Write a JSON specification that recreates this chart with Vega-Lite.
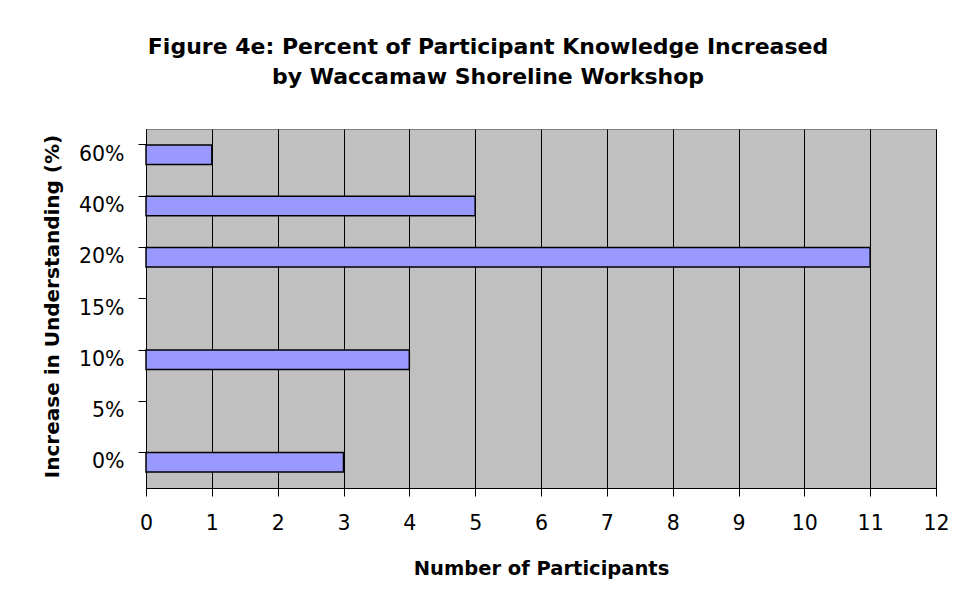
{
  "$schema": "https://vega.github.io/schema/vega-lite/v6.json",
  "width": 790,
  "height": 359,
  "autosize": {"type": "none"},
  "padding": {"left": 146, "top": 129, "right": 23, "bottom": 116},
  "background": "white",
  "title": {
    "text": ["Figure 4e: Percent of Participant Knowledge Increased", "by Waccamaw Shoreline Workshop"],
    "font": "DejaVu Sans",
    "fontSize": 22,
    "fontWeight": "bold",
    "color": "black",
    "lineHeight": 30,
    "anchor": "middle",
    "dx": -53,
    "offset": 40
  },
  "data": {
    "values": [
      {"increase": "60%", "participants": 1},
      {"increase": "40%", "participants": 5},
      {"increase": "20%", "participants": 11},
      {"increase": "10%", "participants": 4},
      {"increase": "0%", "participants": 3}
    ]
  },
  "mark": {"type": "bar", "fill": "#9999FF", "stroke": "black", "strokeWidth": 1.5},
  "encoding": {
    "y": {
      "field": "increase",
      "type": "nominal",
      "scale": {"domain": ["60%", "40%", "20%", "15%", "10%", "5%", "0%"], "paddingInner": 0.62, "paddingOuter": 0.31},
      "axis": {
        "title": "Increase in Understanding (%)",
        "titleFont": "DejaVu Sans",
        "titleFontSize": 20,
        "titleFontWeight": "bold",
        "titleColor": "black",
        "titleAngle": -90,
        "titleBaseline": "bottom",
        "titleX": -84,
        "titleY": 177,
        "titleAlign": "center",
        "labelFont": "DejaVu Sans",
        "labelFontSize": 20.5,
        "labelColor": "black",
        "labelPadding": 14,
        "tickSize": 8,
        "tickColor": "black",
        "tickWidth": 1,
        "bandPosition": 0,
        "domainColor": "black",
        "domainWidth": 1,
        "grid": false
      }
    },
    "x": {
      "field": "participants",
      "type": "quantitative",
      "scale": {"domain": [0, 12], "nice": false},
      "axis": {
        "title": "Number of Participants",
        "titleFont": "DejaVu Sans",
        "titleFontSize": 19.5,
        "titleFontWeight": "bold",
        "titleColor": "black",
        "titleBaseline": "alphabetic",
        "titleY": 86,
        "values": [0, 1, 2, 3, 4, 5, 6, 7, 8, 9, 10, 11, 12],
        "labelFont": "DejaVu Sans",
        "labelFontSize": 20.5,
        "labelColor": "black",
        "labelPadding": 17,
        "labelFlush": false,
        "tickSize": 8,
        "tickColor": "black",
        "tickWidth": 1,
        "domainColor": "black",
        "domainWidth": 1,
        "grid": true,
        "gridColor": "black",
        "gridWidth": 1,
        "gridOpacity": 1
      }
    }
  },
  "config": {
    "view": {"fill": "#C0C0C0", "stroke": "#808080", "strokeWidth": 1}
  }
}
